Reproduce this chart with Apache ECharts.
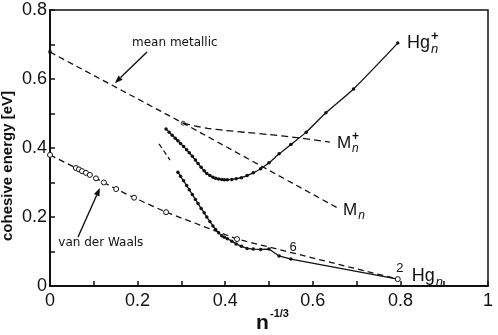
<!DOCTYPE html>
<html><head><meta charset="utf-8">
<script src="https://cdn.jsdelivr.net/npm/echarts@6/dist/echarts.min.js"></script>
<style>html,body{margin:0;padding:0;background:#fff}#c{width:498px;height:335px}</style>
</head><body><div id="c"></div>
<script>
// ---- data (x = n^-1/3, y = cohesive energy in eV) ----
const meanMetallicX = [0, 0.304, 0.657];
const meanMetallicY = [0.678, 0.472, 0.226];
const mPlusX = [0.304, 0.33, 0.36, 0.40, 0.45, 0.50, 0.57, 0.639];
const mPlusY = [0.472, 0.464, 0.457, 0.451, 0.445, 0.439, 0.429, 0.417];
const hgPlusX = [0.265,0.272,0.279,0.286,0.292,0.298,0.305,0.312,0.318,0.325,0.332,0.338,0.345,0.352,0.358,0.365,0.372,0.378,0.385,0.392,0.398,0.405,0.415,0.425,0.437,0.45,0.464,0.481,0.5,0.523,0.55,0.585,0.63,0.693,0.794];
const hgPlusY = [0.455,0.446,0.437,0.428,0.421,0.413,0.404,0.395,0.386,0.376,0.365,0.355,0.344,0.334,0.326,0.320,0.315,0.312,0.310,0.309,0.308,0.308,0.309,0.311,0.314,0.320,0.328,0.340,0.357,0.383,0.410,0.446,0.502,0.571,0.704];
const hgX = [0.292,0.298,0.305,0.312,0.318,0.325,0.332,0.338,0.345,0.352,0.358,0.365,0.372,0.378,0.385,0.392,0.398,0.405,0.415,0.425,0.437,0.45,0.464,0.481,0.5,0.523,0.55,0.794];
const hgY = [0.330,0.318,0.305,0.291,0.279,0.265,0.251,0.239,0.225,0.212,0.200,0.187,0.174,0.164,0.154,0.146,0.141,0.137,0.130,0.122,0.115,0.109,0.107,0.106,0.107,0.087,0.078,0.020];
const hgExtrapX = [0.249, 0.274];
const hgExtrapY = [0.412, 0.365];
const vdwX = [0, 0.059, 0.066, 0.073, 0.082, 0.091, 0.105, 0.123, 0.151, 0.192, 0.265, 0.427, 0.794];
const vdwY = [0.380, 0.342, 0.338, 0.333, 0.328, 0.322, 0.312, 0.300, 0.281, 0.256, 0.214, 0.136, 0.020];
const xTickLabels = ['0', '0.2', '0.4', '0.6', '0.8', '1'];
const yTickLabels = ['0', '0.2', '0.4', '0.6', '0.8'];

const zip = (xs, ys) => xs.map((x, i) => [x, ys[i]]);
const SANS = "'Liberation Sans',Arial,sans-serif";
const chart = echarts.init(document.getElementById('c'), null, {renderer: 'canvas'});
const labelFmt = arr => v => { const r = Math.round(v * 10); return r % 2 ? '' : (arr[r / 2] || ''); };

chart.setOption({
  animation: false,
  grid: {left: 50, right: 10, top: 10, bottom: 49, show: true, borderColor: '#111', borderWidth: 1.5},
  xAxis: {type: 'value', min: 0, max: 1, interval: 0.1,
    axisLine: {lineStyle: {color: '#111', width: 2}},
    axisTick: {inside: true, length: 5, lineStyle: {color: '#111', width: 1.5}},
    axisLabel: {formatter: labelFmt(xTickLabels), color: '#111', fontSize: 18, fontFamily: SANS, margin: 6, showMinLabel: true, showMaxLabel: true},
    splitLine: {show: false}},
  yAxis: {type: 'value', min: 0, max: 0.8, interval: 0.1,
    axisLine: {lineStyle: {color: '#111', width: 2}},
    axisTick: {inside: true, length: 5, lineStyle: {color: '#111', width: 1.5}},
    axisLabel: {formatter: labelFmt(yTickLabels), color: '#111', fontSize: 18, fontFamily: SANS, margin: 3, showMinLabel: true, showMaxLabel: true},
    splitLine: {show: false}},
  series: [
    {type: 'line', data: zip(meanMetallicX, meanMetallicY), symbol: 'none',
     lineStyle: {color: '#111', width: 1.3, type: [6, 4]}},
    {type: 'scatter', data: [[meanMetallicX[0], meanMetallicY[0]]], symbolSize: 4, itemStyle: {color: '#111'}},
    {type: 'line', data: zip(mPlusX, mPlusY), symbol: 'none', smooth: 0.3,
     lineStyle: {color: '#111', width: 1.3, type: [7, 4]}},
    {type: 'scatter', data: [[mPlusX[0], mPlusY[0]]], symbol: 'circle', symbolSize: 4,
     itemStyle: {color: '#fff', borderColor: '#111', borderWidth: 1}},
    {type: 'line', data: zip(hgPlusX, hgPlusY), symbol: 'circle', symbolSize: 3.5, showAllSymbol: true, smooth: 0.2,
     lineStyle: {color: '#111', width: 1.3}, itemStyle: {color: '#111'}},
    {type: 'line', data: zip(hgX, hgY), symbol: 'circle', symbolSize: 3.5, showAllSymbol: true,
     lineStyle: {color: '#111', width: 1.3}, itemStyle: {color: '#111'}},
    {type: 'line', data: zip(hgExtrapX, hgExtrapY), symbol: 'none',
     lineStyle: {color: '#111', width: 1.3, type: [5, 3]}},
    {type: 'line', data: zip(vdwX, vdwY), symbol: 'circle', symbolSize: 5, showAllSymbol: true,
     lineStyle: {color: '#111', width: 1.3, type: [6, 4]},
     itemStyle: {color: '#fff', borderColor: '#111', borderWidth: 1}}
  ]
});

const ctx = document.createElement('canvas').getContext('2d');
function measure(text, font) { ctx.font = font; return ctx.measureText(text).width; }
function P(x, y) { return chart.convertToPixel({gridIndex: 0}, [x, y]); }
function txt(p, text, font, align, va) {
  return {type: 'text', x: p[0], y: p[1], z: 100,
    style: {text, font, fill: '#111', textAlign: align || 'left', textVerticalAlign: va || 'middle', align: align || 'left', verticalAlign: va || 'middle'}};
}
function arrow(a, b) {
  const pa = P(a[0], a[1]), pb = P(b[0], b[1]);
  const ang = Math.atan2(pb[1] - pa[1], pb[0] - pa[0]);
  const L = 8, W = 3;
  const bx = pb[0] - L * Math.cos(ang), by = pb[1] - L * Math.sin(ang);
  return [
    {type: 'line', z: 100, shape: {x1: pa[0], y1: pa[1], x2: bx, y2: by}, style: {stroke: '#111', lineWidth: 1.4}},
    {type: 'polygon', z: 100, shape: {points: [pb, [bx + W * Math.sin(ang), by - W * Math.cos(ang)], [bx - W * Math.sin(ang), by + W * Math.cos(ang)]]}, style: {fill: '#111'}}
  ];
}
function subsup(p, base, sub, sup, size) {
  const f = size + 'px ' + SANS;
  const els = [txt(p, base, f, 'left', 'middle')];
  const w = measure(base, f) + 1;
  if (sub) els.push(txt([p[0] + w, p[1] + size * 0.33], sub, 'italic ' + Math.round(size * 0.7) + 'px ' + SANS, 'left', 'middle'));
  if (sup) els.push(txt([p[0] + w, p[1] - size * 0.38], sup, 'bold ' + Math.round(size * 0.72) + 'px ' + SANS, 'left', 'middle'));
  return els;
}
const body = '12px "DejaVu Sans",sans-serif';
let g = [];
g.push(txt(P(0.285, 0.704), 'mean metallic', body, 'center', 'middle'));
g = g.concat(arrow([0.2215, 0.678], [0.148, 0.588]));
g.push(txt(P(0.116, 0.125), 'van der Waals', body, 'center', 'middle'));
g = g.concat(arrow([0.064, 0.142], [0.114, 0.284]));
g = g.concat(subsup(P(0.815, 0.704), 'Hg', 'n', '+', 18));
g = g.concat(subsup(P(0.826, 0.029), 'Hg', 'n', null, 18));
g = g.concat(subsup(P(0.655, 0.414), 'M', 'n', '+', 17));
g = g.concat(subsup(P(0.669, 0.220), 'M', 'n', null, 17));
g.push(txt(P(0.555, 0.112), '6', '13px ' + SANS, 'center', 'middle'));
g.push(txt(P(0.799, 0.052), '2', '13px ' + SANS, 'center', 'middle'));
// axis titles
g.push({type: 'text', x: 8, y: 166, rotation: Math.PI / 2, z: 100,
  style: {text: 'cohesive energy [eV]', font: 'bold 15px ' + SANS, fill: '#111', textAlign: 'center', textVerticalAlign: 'middle', align: 'center', verticalAlign: 'middle'}});
g.push({type: 'text', x: 256, y: 323, z: 100, style: {text: 'n', font: 'bold 21px ' + SANS, fill: '#111', textAlign: 'left', textVerticalAlign: 'middle', align: 'left', verticalAlign: 'middle'}});
g.push({type: 'text', x: 270, y: 314, z: 100, style: {text: '-1/3', font: 'bold 11px ' + SANS, fill: '#111', textAlign: 'left', textVerticalAlign: 'middle', align: 'left', verticalAlign: 'middle'}});
chart.setOption({graphic: g});
</script></body></html>
